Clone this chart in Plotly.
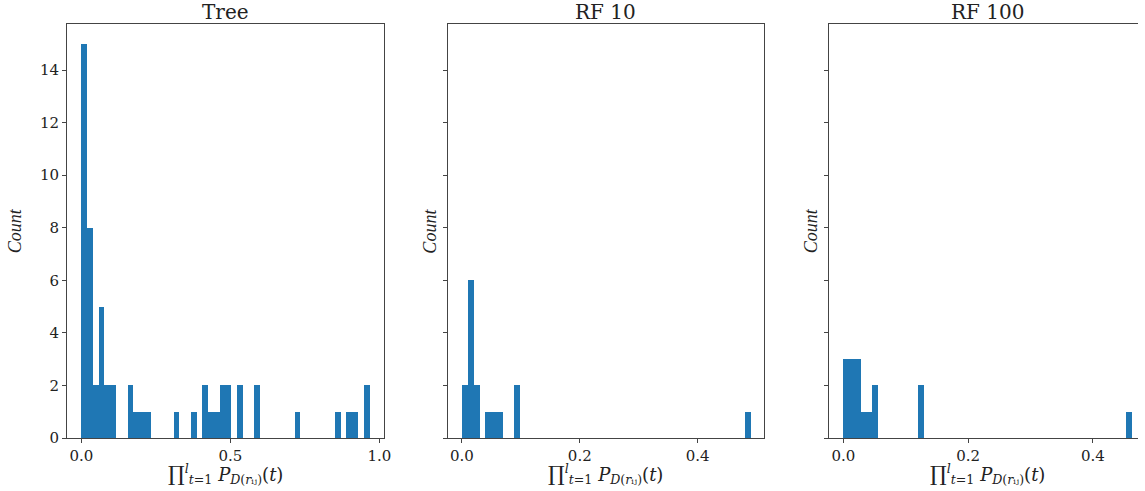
import numpy as np
import plotly.graph_objects as go

# ---------------- data (histogram counts, 50 bins each) ----------------
panel_titles = ["Tree", "RF 10", "RF 100"]

tree_counts = [15, 8, 2, 5, 2, 2, 0, 0, 2, 1,
               1, 1, 0, 0, 0, 0, 1, 0, 0, 1,
               0, 2, 1, 1, 2, 2, 0, 2, 0, 0,
               2, 0, 0, 0, 0, 0, 0, 1, 0, 0,
               0, 0, 0, 0, 1, 0, 1, 1, 0, 2]
tree_range = [0.0, 0.967]

rf10_counts = [2, 6, 2, 0, 1, 1, 1, 0, 0, 2,
               0, 0, 0, 0, 0, 0, 0, 0, 0, 0,
               0, 0, 0, 0, 0, 0, 0, 0, 0, 0,
               0, 0, 0, 0, 0, 0, 0, 0, 0, 0,
               0, 0, 0, 0, 0, 0, 0, 0, 0, 1]
rf10_range = [0.0, 0.489]

rf100_counts = [3, 3, 3, 1, 1, 2, 0, 0, 0, 0,
                0, 0, 0, 2, 0, 0, 0, 0, 0, 0,
                0, 0, 0, 0, 0, 0, 0, 0, 0, 0,
                0, 0, 0, 0, 0, 0, 0, 0, 0, 0,
                0, 0, 0, 0, 0, 0, 0, 0, 0, 1]
rf100_range = [0.0, 0.462]

x_tickvals = [[0.0, 0.5, 1.0], [0.0, 0.2, 0.4], [0.0, 0.2, 0.4]]
y_tickvals = [0, 2, 4, 6, 8, 10, 12, 14]

# ---------------- layout geometry ----------------
W, H = 1145, 491
ML, MR, MT, MB = 67, 0, 24, 53
PW = W - ML - MR
px_left = [67, 450, 834]
px_right = [386, 769, 1145]
domains = [[(l - ML) / PW, (r - ML) / PW] for l, r in zip(px_left, px_right)]
full_width = 319.0

FONT = "DejaVu Serif"
FONT_V = "Liberation Serif"
BLUE = "#1f77b4"
AXC = "#444444"
TXT = "#222222"

counts_all = [tree_counts, rf10_counts, rf100_counts]
ranges_all = [tree_range, rf10_range, rf100_range]

fig = go.Figure()
ymax = max(max(c) for c in counts_all) * 1.05

xlabel = ('<span style="font-size:21px">∏</span><sup><i>l</i></sup><sub><i>t</i>=1</sub> '
          '<i>P</i><sub><i>D</i>(<i>r</i>ᵢⱼ)</sub>(<i>t</i>)')

annotations = []
for i in range(3):
    counts = np.array(counts_all[i])
    a, b = ranges_all[i]
    edges = np.linspace(a, b, len(counts) + 1)
    centers = (edges[:-1] + edges[1:]) / 2
    width = edges[1] - edges[0]
    ax = "" if i == 0 else str(i + 1)
    fig.add_trace(go.Bar(
        x=centers, y=counts, width=width,
        marker=dict(color=BLUE, line=dict(width=0)),
        xaxis="x" + ax, yaxis="y" + ax, showlegend=False,
    ))
    span = b - a
    lo = a - 0.05 * span
    hi = b + 0.05 * span
    vis_px = px_right[i] - px_left[i]
    hi_vis = lo + (hi - lo) * vis_px / full_width
    fig.layout["xaxis" + ax] = dict(
        domain=domains[i], range=[lo, hi_vis], anchor="y" + ax,
        tickvals=x_tickvals[i], tickformat=".1f",
        ticks="outside", ticklen=4, tickwidth=1, tickcolor=AXC,
        showline=True, linecolor=AXC, linewidth=1, mirror=True,
        showgrid=False, zeroline=False,
        tickfont=dict(family=FONT, size=15, color=TXT),
    )
    fig.layout["yaxis" + ax] = dict(
        domain=[0, 1], range=[0, ymax], anchor="x" + ax,
        tickvals=y_tickvals, showticklabels=(i == 0),
        ticks="outside", ticklen=4, tickwidth=1, tickcolor=AXC,
        showline=True, linecolor=AXC, linewidth=1, mirror=(i < 2),
        showgrid=False, zeroline=False,
        tickfont=dict(family=FONT, size=15, color=TXT),
    )
    xc = (px_left[i] + full_width / 2 - ML) / PW
    # panel title
    annotations.append(dict(
        text=panel_titles[i], x=xc, xref="paper", xanchor="center",
        y=1, yref="paper", yanchor="bottom", yshift=-2, showarrow=False,
        font=dict(family=FONT, size=20, color=TXT),
    ))
    # y label
    ylx = [15, 432, 816][i]
    annotations.append(dict(
        text="<i>Count</i>", x=(ylx - ML) / PW, xref="paper", xanchor="center",
        y=0.5, yref="paper", yanchor="middle", textangle=-90, showarrow=False,
        font=dict(family=FONT_V, size=18, color=TXT),
    ))
    # x label
    annotations.append(dict(
        text=xlabel, x=xc, xref="paper", xanchor="center",
        y=0, yref="paper", yanchor="top", yshift=-21, showarrow=False,
        font=dict(family=FONT, size=18, color=TXT),
    ))

fig.update_layout(
    width=W, height=H,
    margin=dict(l=ML, r=MR, t=MT, b=MB, pad=0),
    paper_bgcolor="white", plot_bgcolor="white",
    bargap=0, annotations=annotations,
)

fig.write_html("out.html", config={"displayModeBar": False},
               post_script="document.body.style.margin='0';")
